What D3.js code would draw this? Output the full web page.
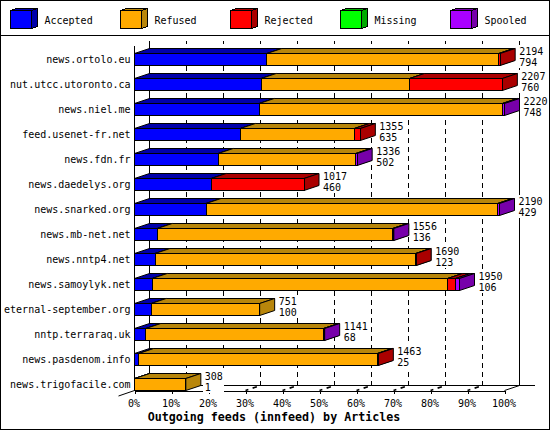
<!DOCTYPE html>
<html><head><meta charset="utf-8">
<script src="https://d3js.org/d3.v7.min.js"></script>
<style>
html,body{margin:0;padding:0;background:#fff}
svg{display:block}
text{font-family:"DejaVu Sans Mono",monospace;font-size:10px;fill:#000}
</style></head><body><div id="c"></div>
<script>
const hosts=["news.ortolo.eu","nut.utcc.utoronto.ca","news.niel.me","feed.usenet-fr.net","news.fdn.fr","news.daedelys.org","news.snarked.org","news.mb-net.net","news.nntp4.net","news.samoylyk.net","eternal-september.org","nntp.terraraq.uk","news.pasdenom.info","news.trigofacile.com"];
const accepted=[794,760,748,635,502,460,429,136,123,106,100,68,25,1];
const refused=[1392,890,1459,684,826,0,1750,1413,1565,1772,651,1066,1432,307];
const rejected=[8,557,0,36,0,557,0,0,2,48,0,0,6,0];
const missing=[0,0,0,0,0,0,0,0,0,0,0,0,0,0];
const spooled=[0,0,13,0,8,0,11,7,0,24,0,7,0,0];
const totals=[2194,2207,2220,1355,1336,1017,2190,1556,1690,1950,751,1141,1463,308];
const seriesNames=["Accepted","Refused","Rejected","Missing","Spooled"];
const frontColors=["#0000FF","#FFAA00","#FF0000","#00FF00","#AA00FF"];
const darkColors=["#0000AA","#B8860B","#AA0000","#00AA00","#7700AA"];
const percentTicks=[0,10,20,30,40,50,60,70,80,90,100];
const chartTitle="Outgoing feeds (innfeed) by Articles";
const seriesValues=[accepted,refused,rejected,missing,spooled];

const W=550,H=430,dx=15,dy=5;
const svg=d3.select("#c").append("svg").attr("width",W).attr("height",H).attr("shape-rendering","crispEdges");
const xp=d3.scaleLinear().domain([0,100]).range([134.5,504.5]);
const xv=d3.scaleLinear().domain([0,2220]).range([134.5,504.5]);
const y=d3.scaleBand().domain(hosts).range([53.5,390.5]).paddingInner(.52).paddingOuter(0);
const plotBottom=390.5,plotTop=45.5;
const line=(g,x1,y1,x2,y2)=>g.append("line").attr("x1",x1).attr("y1",y1).attr("x2",x2).attr("y2",y2).attr("stroke","#000");

svg.append("rect").attr("x",.5).attr("y",.5).attr("width",W-1).attr("height",H-1).attr("fill","#fff").attr("stroke","#000");
line(svg,0,35.5,W,35.5);

// legend
const leg=d3.scaleBand().domain(seriesNames).range([10,560]);
const lg=svg.selectAll("g.leg").data(seriesNames).join("g").attr("class","leg").attr("transform",d=>`translate(${leg(d)+.5},10.5)`);
lg.append("path").attr("d","M0,0L6,-2L27,-2L21,0Z").attr("fill",(d,i)=>darkColors[i]).attr("stroke","#000");
lg.append("path").attr("d","M21,0L27,-2L27,16L21,18Z").attr("fill",(d,i)=>darkColors[i]).attr("stroke","#000");
lg.append("rect").attr("width",21).attr("height",18).attr("fill",(d,i)=>frontColors[i]).attr("stroke","#000");
lg.append("text").attr("x",34).attr("y",13.5).text(d=>d);

// back wall
const grid=svg.append("g");
percentTicks.slice(1,-1).forEach(p=>line(grid,xp(p)+dx,plotBottom-dy,xp(p)+dx,plotTop-dy).attr("stroke-dasharray","5 4"));
line(grid,xp(0)+dx,plotBottom-dy,xp(0)+dx,plotTop-dy);
line(grid,xp(100)+dx,plotBottom-dy,xp(100)+dx,plotTop-dy);
line(grid,xp(0)+dx,plotBottom-dy,535,plotBottom-dy);

// floor diagonals
const fl=svg.append("g").attr("shape-rendering","auto");
percentTicks.slice(1,-1).forEach(p=>line(fl,xp(p),plotBottom,xp(p)+dx,plotBottom-dy).attr("stroke-dasharray","3 4.5 4.5 10").attr("stroke-width",1.6));
line(fl,xp(0)-16,plotBottom+5.5,xp(0),plotBottom);
line(fl,xp(100),plotBottom,xp(100)+dx,plotBottom-dy);

// axes
const xAxis=d3.axisBottom(xp).tickValues(percentTicks).tickFormat(d=>d+"%").tickSizeOuter(0).tickSizeInner(3).tickPadding(6);
const ax=svg.append("g").attr("transform",`translate(0,${plotBottom})`).call(xAxis);
ax.select(".domain").attr("stroke","#000");
ax.selectAll(".tick line").attr("stroke","#000");
ax.selectAll(".tick text").attr("dx","-1");
ax.attr("font-family",null).attr("font-size",null);
const yAxis=d3.axisLeft(y).tickSize(0).tickPadding(4);
const ay=svg.append("g").attr("transform","translate(134.5,0)").call(yAxis);
ay.attr("font-family",null).attr("font-size",null);
ay.select(".domain").attr("d",`M0,${plotTop}V${plotBottom}`).attr("stroke","#000");

// bars
hosts.forEach((h,r)=>{
  const g=svg.append("g"),t=y(h),b=y.bandwidth();
  let c=0;
  seriesValues.forEach((vals,s)=>{
    const v=vals[r]; if(!v) return;
    const a=xv(c),e=xv(c+v); c+=v;
    g.append("path").attr("d",`M${a},${t}L${a+dx},${t-dy}H${e+dx}L${e},${t}Z`).attr("fill",darkColors[s]).attr("stroke","#000").attr("shape-rendering","auto");
    g.append("path").attr("d",`M${e},${t}L${e+dx},${t-dy}V${t+b-dy}L${e},${t+b}Z`).attr("fill",darkColors[s]).attr("stroke","#000").attr("shape-rendering","auto");
    g.append("rect").attr("x",a).attr("y",t).attr("width",e-a).attr("height",b).attr("fill",frontColors[s]).attr("stroke","#000");
  });
});
// value labels
hosts.forEach((h,r)=>{
  const t=y(h),lx=xv(totals[r])+dx+4;
  const w=6*String(totals[r]).length;
  svg.append("rect").attr("x",lx-2).attr("y",t-9).attr("width",w+3).attr("height",23).attr("fill","#fff");
  svg.append("text").attr("x",lx).attr("y",t+1).text(totals[r]);
  svg.append("text").attr("x",lx).attr("y",t+12).text(accepted[r]);
});
svg.append("text").attr("x",274).attr("y",421).attr("text-anchor","middle").style("font-weight","bold").style("font-size","11.67px").text(chartTitle);
</script></body></html>
